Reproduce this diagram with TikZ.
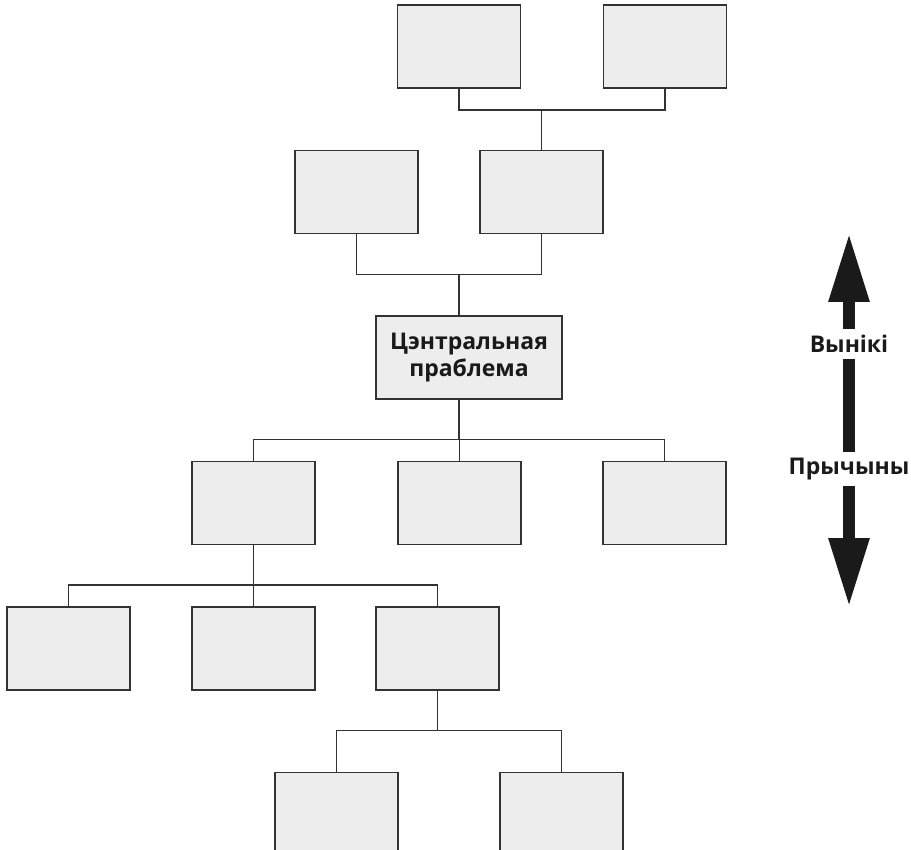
\documentclass[tikz,border=0pt]{standalone}
\usepackage{fontspec}
\setmainfont{Open Sans}
\usetikzlibrary{positioning,arrows.meta}
\definecolor{boxfill}{HTML}{EDEDED}
\definecolor{boxline}{HTML}{333333}
\definecolor{arrowcol}{HTML}{1A1A1A}
\begin{document}
\begin{tikzpicture}[x=1pt,y=-1pt,
  box/.style = {draw=boxline, line width=1.4pt, fill=boxfill, minimum width=123pt, minimum height=83pt, inner sep=0pt},
  prob/.style = {box, minimum width=186pt, align=center, font=\bfseries\fontsize{23}{27}\selectfont, text=arrowcol},
  lbl/.style = {fill=white, inner xsep=1pt, inner ysep=6pt, font=\bfseries\fontsize{23}{27}\selectfont, text=arrowcol},
  link/.style = {draw=boxline, line width=1.3pt}]
\useasboundingbox (0,0) rectangle (911,850);
\node[prob] (c) at (469,357.5) {Цэнтральная\\праблема};
\node[box] (u1) [above=81pt of c, xshift=-112.5pt] {};
\node[box] (u2) [above=81pt of c, xshift=72.5pt] {};
\node[box] (t1) [above=61pt of u2, xshift=-82.5pt] {};
\node[box] (t2) [above=61pt of u2, xshift=123.5pt] {};
\node[box] (r1) [below=61pt of c, xshift=-215.5pt] {};
\node[box] (r2) [below=61pt of c, xshift=-9.5pt] {};
\node[box] (r3) [below=61pt of c, xshift=195.5pt] {};
\node[box] (s1) [below=61pt of r1, xshift=-185pt] {};
\node[box] (s2) [below=61pt of r1] {};
\node[box] (s3) [below=61pt of r1, xshift=184pt] {};
\node[box] (v1) [below=81pt of s3, xshift=-101pt] {};
\node[box] (v2) [below=81pt of s3, xshift=124pt] {};
% joints
\coordinate[below=21pt of t1.south] (jt);
\coordinate[below=40pt of u1.south] (ju);
\coordinate[below=40pt of c.south, xshift=-10pt] (jc);
\coordinate[below=40pt of r1.south] (jr);
\coordinate[below=40pt of s3.south] (js);
\draw[link] (t1) -- (jt) -| (t2);
\draw[link] (u2) -- (u2 |- jt);
\draw[link] (u1) -- (ju) -| (u2);
\draw[link] (c.north -| jc) -- (jc |- ju);
\draw[link] (c.south -| jc) -- (jc);
\draw[link] (r1) |- (jc) -| (r3);
\draw[link] (r2) -- (r2 |- jc);
\draw[link] (r1) -- (jr);
\draw[link] (s1) |- (jr) -| (s3);
\draw[link] (s2) -- (jr);
\draw[link] (s3) -- (js);
\draw[link] (v1) |- (js) -| (v2);
% side arrow
\coordinate (atop) at (849,233);
\coordinate (abot) at (849,607);
\draw[arrowcol, line width=12pt, {Triangle[width=38pt,length=69pt]}-{Triangle[width=38pt,length=69pt]}] (abot) -- (atop);
\node[lbl] (res) at (849,344) {Вынікі};
\node[lbl] (cause) at (849,469) {Прычыны};
\end{tikzpicture}
\end{document}
